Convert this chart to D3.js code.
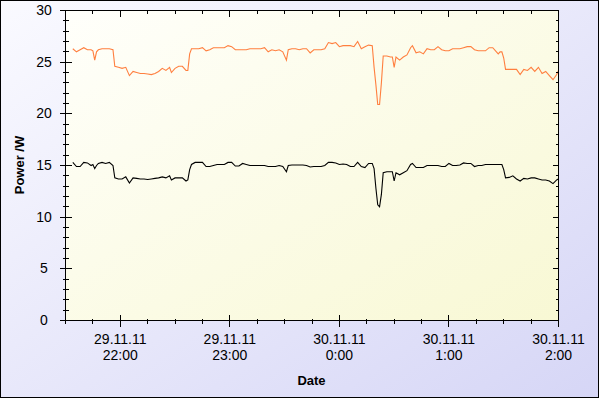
<!DOCTYPE html>
<html>
<head>
<meta charset="utf-8">
<script src="https://cdn.jsdelivr.net/npm/d3@7"></script>
<style>
  body { margin: 0; }
  svg { display: block; }
</style>
</head>
<body>
<svg></svg>
<script>
const wSvg = 600, hSvg = 399;

// minutes after 29.11.11 21:30
const minutes = [
    4, 6, 8, 10, 12, 14, 15, 16, 17, 18,
    20, 22, 24, 26, 27, 29, 31, 33, 35, 37,
    39, 41, 43, 45, 47, 49, 51, 53, 55, 57,
    58, 60, 62, 64, 66, 67, 68, 69, 71, 73,
    75, 77, 79, 81, 83, 85, 87, 89, 91, 93,
    95, 97, 99, 101, 103, 105, 107, 109, 111, 113,
    115, 117, 119, 121, 122, 124, 126, 128, 130, 132,
    134, 136, 138, 140, 142, 144, 146, 148, 150, 152,
    154, 156, 158, 160, 162, 164, 166, 168, 169, 170,
    171, 172, 173, 174, 176, 178, 179, 180, 181, 183,
    185, 187, 189, 190, 192, 194, 196, 198, 200, 202,
    204, 206, 208, 210, 212, 214, 216, 218, 220, 222,
    224, 226, 228, 230, 232, 234, 236, 237, 238, 239,
    240, 241, 243, 245, 247, 249, 251, 253, 255, 257,
    259, 261, 263, 265, 267, 269, 270
];

const powerOrange = [
    26.3, 26.0, 26.2, 26.4, 26.2, 26.2, 26.1, 25.2, 26.0, 26.2,
    26.3, 26.3, 26.3, 26.2, 24.6, 24.5, 24.4, 24.5, 23.7, 24.1,
    24.0, 23.9, 23.9, 23.85, 23.8, 23.9, 24.1, 24.4, 24.2, 24.5,
    24.0, 24.4, 24.6, 24.6, 24.2, 24.2, 25.8, 26.3, 26.3, 26.3,
    26.4, 26.1, 26.2, 26.4, 26.4, 26.4, 26.4, 26.6, 26.5, 26.2,
    26.2, 26.2, 26.2, 26.3, 26.3, 26.3, 26.3, 26.4, 26.0, 26.2,
    26.1, 26.2, 26.0, 25.2, 26.2, 26.3, 26.3, 26.2, 26.3, 26.3,
    25.9, 26.2, 26.2, 26.2, 26.3, 26.9, 26.8, 26.9, 26.5, 26.6,
    26.6, 26.6, 26.5, 27.0, 26.3, 26.5, 26.65, 26.6, 24.5, 22.8,
    20.9, 20.9, 23.0, 25.6, 25.6, 25.5, 25.5, 24.5, 25.5, 25.2,
    25.5, 25.7, 26.4, 26.6, 25.9, 26.0, 25.8, 26.3, 26.2, 26.2,
    26.5, 26.2, 26.1, 26.1, 26.3, 26.3, 26.3, 26.4, 26.5, 26.5,
    26.2, 26.1, 26.1, 26.1, 26.4, 26.4, 26.0, 25.8, 26.0, 26.0,
    25.4, 24.3, 24.3, 24.3, 24.3, 23.8, 24.3, 24.2, 24.5, 24.1,
    24.5, 23.9, 24.1, 23.7, 23.3, 23.8, 24.2
];

const powerBlack = [
    15.3, 14.9, 14.9, 15.3, 15.25, 15.0, 15.1, 14.7, 15.0, 15.2,
    15.3, 15.2, 15.3, 15.0, 13.8, 13.7, 13.7, 13.9, 13.3, 13.8,
    13.75, 13.7, 13.7, 13.65, 13.7, 13.75, 13.8, 13.9, 13.8, 14.0,
    13.6, 13.8, 13.8, 13.8, 13.5, 13.6, 14.6, 15.1, 15.3, 15.3,
    15.3, 14.9, 14.9, 15.0, 15.1, 15.1, 15.1, 15.3, 15.3, 14.95,
    14.95, 15.2, 15.1, 15.0, 15.0, 15.0, 15.0, 15.0, 14.9, 14.9,
    14.9, 15.0, 14.9, 14.4, 15.0, 15.05, 15.05, 15.05, 15.05, 15.0,
    14.85, 14.9, 14.9, 14.9, 15.0, 15.3, 15.3, 15.25, 15.1, 15.15,
    15.1, 14.9, 14.9, 15.3, 14.9, 14.8, 15.2, 15.2, 14.7, 12.8,
    11.2, 11.0, 12.2, 14.3, 14.4, 14.4, 14.4, 13.5, 14.3, 14.1,
    14.3, 14.5, 15.1, 15.2, 14.8, 14.8, 14.8, 15.0, 15.0, 15.0,
    15.0, 14.9, 14.9, 15.2, 15.0, 15.0, 15.05, 15.25, 15.2, 15.2,
    14.9, 15.0, 15.0, 15.1, 15.1, 15.1, 15.1, 15.1, 15.1, 15.1,
    14.6, 13.8, 13.85, 14.0, 13.7, 13.5, 13.75, 13.7, 13.8, 13.8,
    13.7, 13.6, 13.6, 13.5, 13.25, 13.6, 13.7
];

const series = [
    { name: "orange", color: "#ff7f3f", values: powerOrange },
    { name: "black", color: "#000000", values: powerBlack }
];

const startTime = new Date(2011, 10, 29, 21, 30);
const endTime = new Date(2011, 10, 30, 2, 0);
const yDomain = [0, 30];

const xTitle = "Date";
const yTitle = "Power /W";

const plot = { left: 65, right: 558, top: 10, bottom: 320 };

const svg = d3.select("svg")
    .attr("width", wSvg)
    .attr("height", hSvg)
;

const defs = svg.append("defs");

const bgGrad = defs.append("linearGradient")
    .attr("id", "bgGrad")
    .attr("x1", 0).attr("y1", 0).attr("x2", 1).attr("y2", 1);
bgGrad.append("stop").attr("offset", "0%").attr("stop-color", "#fafaff");
bgGrad.append("stop").attr("offset", "100%").attr("stop-color", "#d6d6f6");

const plotGrad = defs.append("linearGradient")
    .attr("id", "plotGrad")
    .attr("x1", 0).attr("y1", 0).attr("x2", 1).attr("y2", 1);
plotGrad.append("stop").attr("offset", "0%").attr("stop-color", "#fffffb");
plotGrad.append("stop").attr("offset", "100%").attr("stop-color", "#f8f8d4");

defs.append("clipPath").attr("id", "plotClip")
    .append("rect")
    .attr("x", plot.left).attr("y", plot.top)
    .attr("width", plot.right - plot.left).attr("height", plot.bottom - plot.top);

// outer background
svg.append("rect")
    .attr("x", 0.5).attr("y", 0.5)
    .attr("width", wSvg - 2).attr("height", hSvg - 2)
    .attr("fill", "url(#bgGrad)")
    .attr("stroke", "#000")
;

// plot background
svg.append("rect")
    .attr("x", plot.left).attr("y", plot.top)
    .attr("width", plot.right - plot.left).attr("height", plot.bottom - plot.top)
    .attr("fill", "url(#plotGrad)")
;

const x = d3.scaleTime()
    .domain([startTime, endTime])
    .range([plot.left, plot.right]);

const y = d3.scaleLinear()
    .domain(yDomain)
    .range([plot.bottom, plot.top]);

const timeOf = m => new Date(startTime.getTime() + m * 60000);

// lines
const lineGroup = svg.append("g").attr("clip-path", "url(#plotClip)");

const line = values => d3.line()
    .x((d, i) => x(timeOf(minutes[i])) + 0.5)
    .y(d => y(d) + 0.5)(values);

lineGroup.selectAll("path")
    .data(series)
    .enter()
    .append("path")
    .attr("d", d => line(d.values))
    .attr("fill", "none")
    .attr("stroke", d => d.color)
    .attr("stroke-width", 1.1)
;

// frame and ticks
const frame = svg.append("g")
    .attr("transform", "translate(0.5,0.5)")
    .attr("stroke", "#000")
    .attr("shape-rendering", "crispEdges");

frame.append("line").attr("x1", plot.left).attr("x2", plot.right).attr("y1", plot.top).attr("y2", plot.top);
frame.append("line").attr("x1", plot.right).attr("x2", plot.right).attr("y1", plot.top).attr("y2", plot.bottom);
frame.append("line").attr("x1", plot.left).attr("x2", plot.left).attr("y1", plot.top).attr("y2", plot.bottom);
frame.append("line").attr("x1", plot.left - 5).attr("x2", plot.right).attr("y1", plot.bottom).attr("y2", plot.bottom);

const yMinor = d3.range(yDomain[0], yDomain[1] + 1, 1);
const yMajor = y.ticks(6);

frame.selectAll(".yTickL")
    .data(yMinor)
    .enter()
    .append("line")
    .attr("x1", d => plot.left - (d % 5 === 0 ? 6 : 3))
    .attr("x2", d => plot.left + (d % 5 === 0 ? 6 : 3))
    .attr("y1", d => Math.round(y(d)))
    .attr("y2", d => Math.round(y(d)))
;

frame.selectAll(".yTickR")
    .data(yMinor)
    .enter()
    .append("line")
    .attr("x1", d => plot.right - (d % 5 === 0 ? 6 : 3))
    .attr("x2", plot.right)
    .attr("y1", d => Math.round(y(d)))
    .attr("y2", d => Math.round(y(d)))
;

const xMinor = x.ticks(d3.timeMinute.every(15));
const xMajor = x.ticks(d3.timeHour.every(1));
const isMajor = d => d.getMinutes() === 0;

frame.selectAll(".xTickB")
    .data(xMinor)
    .enter()
    .append("line")
    .attr("x1", d => Math.round(x(d)))
    .attr("x2", d => Math.round(x(d)))
    .attr("y1", d => plot.bottom - (isMajor(d) ? 6 : 2))
    .attr("y2", d => plot.bottom + (isMajor(d) ? 6 : 3))
;

frame.selectAll(".xTickT")
    .data(xMinor)
    .enter()
    .append("line")
    .attr("x1", d => Math.round(x(d)))
    .attr("x2", d => Math.round(x(d)))
    .attr("y1", plot.top)
    .attr("y2", d => plot.top + (isMajor(d) ? 6 : 3))
;

// tick labels
const labelFont = "Arial, 'Liberation Sans', sans-serif";

svg.append("g")
    .selectAll("text")
    .data(yMajor)
    .enter()
    .append("text")
    .attr("x", 44)
    .attr("y", d => y(d) + 5)
    .attr("text-anchor", "middle")
    .attr("font-family", labelFont)
    .attr("font-size", 14)
    .attr("fill", "#000")
    .text(d => d)
;

const fmtDate = d3.timeFormat("%d.%m.%y");
const fmtTime = d3.timeFormat("%-H:%M");

const xLabels = svg.append("g")
    .selectAll("text")
    .data(xMajor)
    .enter()
    .append("text")
    .attr("text-anchor", "middle")
    .attr("font-family", labelFont)
    .attr("font-size", 14)
    .attr("fill", "#000")
;
xLabels.append("tspan")
    .attr("x", d => x(d) + 0.5)
    .attr("y", 344)
    .text(d => fmtDate(d));
xLabels.append("tspan")
    .attr("x", d => x(d) + 0.5)
    .attr("y", 360)
    .text(d => fmtTime(d));

// axis titles
svg.append("text")
    .attr("x", (plot.left + plot.right) / 2)
    .attr("y", 385)
    .attr("text-anchor", "middle")
    .attr("font-family", labelFont)
    .attr("font-weight", "bold")
    .attr("font-size", 13)
    .text(xTitle)
;

svg.append("text")
    .attr("transform", `translate(24, ${(plot.top + plot.bottom) / 2}) rotate(-90)`)
    .attr("text-anchor", "middle")
    .attr("font-family", labelFont)
    .attr("font-weight", "bold")
    .attr("font-size", 13)
    .text(yTitle)
;
</script>
</body>
</html>
